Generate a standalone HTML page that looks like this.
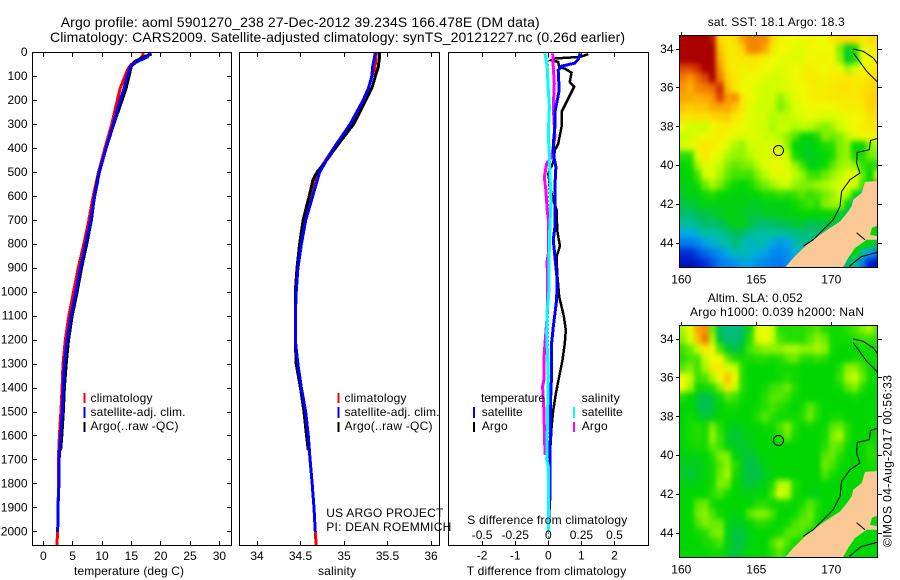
<!DOCTYPE html>
<html>
<head>
<meta charset="utf-8">
<title>Argo profile 5901270_238</title>
<style>
html,body{margin:0;padding:0;background:#fff;}
svg{display:block;}
text{font-family:"Liberation Sans",sans-serif;font-size:12px;fill:#000;}
.ttl{font-size:14px;}
</style>
</head>
<body>
<svg id="fig" xmlns="http://www.w3.org/2000/svg" width="900" height="580" viewBox="0 0 900 580">
<defs>
<clipPath id="clip-p1"><rect x="33" y="53" width="198" height="492"/></clipPath>
<clipPath id="clip-p2"><rect x="240" y="53" width="199" height="492"/></clipPath>
<clipPath id="clip-p3"><rect x="449" y="53" width="199" height="492"/></clipPath>
<clipPath id="clip-m1"><rect x="679" y="35" width="199" height="233"/></clipPath>
<clipPath id="clip-m2"><rect x="679" y="325" width="199" height="233"/></clipPath>
<filter id="map-smooth" filterUnits="userSpaceOnUse" x="640" y="0" width="260" height="580" color-interpolation-filters="sRGB"><feGaussianBlur stdDeviation="2.4 3"/></filter>
</defs>

<text class="ttl" x="60.7" y="27" textLength="479" lengthAdjust="spacing">Argo profile: aoml 5901270_238 27-Dec-2012 39.234S 166.478E (DM data)</text>
<text class="ttl" x="50" y="42" textLength="575" lengthAdjust="spacing">Climatology: CARS2009. Satellite-adjusted climatology: synTS_20121227.nc (0.26d earlier)</text>

<g id="p1"></g>
<g id="p2"></g>
<g id="p3"></g>
<g id="m1"></g>
<g id="m2"></g>

<text x="74" y="575" textLength="110" lengthAdjust="spacing">temperature (deg C)</text>
<text x="318" y="575" textLength="38" lengthAdjust="spacing">salinity</text>
<text x="466.7" y="575" textLength="159.5" lengthAdjust="spacing">T difference from climatology</text>
<text x="467.3" y="524" textLength="160" lengthAdjust="spacing">S difference from climatology</text>

<g>
<rect x="83.5" y="393" width="2" height="10" fill="#f00"/>
<rect x="83.5" y="407" width="2" height="11" fill="#00f"/>
<rect x="83.5" y="422" width="2" height="10" fill="#000"/>
<text x="90.5" y="402" textLength="62" lengthAdjust="spacing">climatology</text>
<text x="90.5" y="416" textLength="95" lengthAdjust="spacing">satellite-adj. clim.</text>
<text x="90.5" y="430" textLength="88" lengthAdjust="spacing">Argo(..raw -QC)</text>
</g>
<g>
<rect x="337.5" y="393" width="2" height="10" fill="#f00"/>
<rect x="337.5" y="407" width="2" height="11" fill="#00f"/>
<rect x="337.5" y="422" width="2" height="10" fill="#000"/>
<text x="344.5" y="402" textLength="62" lengthAdjust="spacing">climatology</text>
<text x="344.5" y="416" textLength="95" lengthAdjust="spacing">satellite-adj. clim.</text>
<text x="344.5" y="430" textLength="88" lengthAdjust="spacing">Argo(..raw -QC)</text>
</g>
<g>
<text x="481" y="402" textLength="64" lengthAdjust="spacing">temperature</text>
<text x="581.7" y="402" textLength="38" lengthAdjust="spacing">salinity</text>
<rect x="473" y="407" width="2" height="11" fill="#00f"/>
<rect x="473" y="422" width="2" height="10" fill="#000"/>
<rect x="573" y="407" width="2" height="11" fill="#0ff"/>
<rect x="573" y="422" width="2" height="10" fill="#f0f"/>
<text x="481.7" y="416" textLength="41" lengthAdjust="spacing">satellite</text>
<text x="481.7" y="430" textLength="26" lengthAdjust="spacing">Argo</text>
<text x="581.7" y="416" textLength="41" lengthAdjust="spacing">satellite</text>
<text x="581.7" y="430" textLength="26" lengthAdjust="spacing">Argo</text>
</g>

<text x="326.3" y="517" textLength="117" lengthAdjust="spacing">US ARGO PROJECT</text>
<text x="326.3" y="531" textLength="125" lengthAdjust="spacing">PI: DEAN ROEMMICH</text>

<text x="707.7" y="26" textLength="137" lengthAdjust="spacing">sat. SST: 18.1 Argo: 18.3</text>
<text x="707.7" y="302" textLength="95" lengthAdjust="spacing">Altim. SLA: 0.052</text>
<text x="690" y="316" textLength="174" lengthAdjust="spacing">Argo h1000: 0.039 h2000: NaN</text>
<text transform="translate(891.5,547) rotate(-90)" x="0" y="0" textLength="172" lengthAdjust="spacing">©IMOS 04-Aug-2017 00:56:33</text>
</svg>

<script>
// ---------- profile data (depth in m) ----------
var depthTicks = [0,100,200,300,400,500,600,700,800,900,1000,1100,1200,1300,1400,1500,1600,1700,1800,1900,2000];
var tempTicks = [0,5,10,15,20,25,30];
var salTicks = [34,34.5,35,35.5,36];
var salTickLabels = ['34','34.5','35','35.5','36'];
var tDiffTicks = [-2,-1,0,1,2];
var sDiffTicks = [-0.5,-0.25,0,0.25,0.5];
var sDiffTickLabels = ['-0.5','-0.25','0','0.25','0.5'];

var climDepth = [0,10,30,50,70,100,150,200,300,400,500,600,700,800,900,1000,1100,1200,1300,1400,1500,1600,1700,1800,1900,2000,2056];
var climTemp = [17,17,16.5,15,14.4,13.9,13.1,12.6,11.65,10.5,9.4,8.5,7.75,6.9,5.95,5.15,4.35,3.75,3.35,3.2,3,2.75,2.55,2.6,2.5,2.45,2.3];
var climSal = [35.375,35.37,35.365,35.36,35.35,35.32,35.28,35.22,35.07,34.88,34.70,34.63,34.55,34.51,34.47,34.45,34.44,34.44,34.46,34.51,34.56,34.59,34.61,34.635,34.655,34.67,34.68];

var satDepth = [0,20,40,60,100,150,200,300,400,500,600,700,800,900,1000,1100,1200,1300,1400,1500,1600,1700,1800,1900,2000];
var satTemp = [18.2,17.7,15.9,14.8,14.3,13.75,13.1,11.9,10.7,9.55,8.75,8.05,7.2,6.3,5.55,4.7,4.05,3.6,3.4,3.25,2.95,2.7,2.65,2.5,2.45];
var satSal = [35.36,35.35,35.34,35.33,35.32,35.28,35.22,35.07,34.88,34.72,34.64,34.56,34.51,34.47,34.45,34.44,34.44,34.47,34.51,34.56,34.59,34.61,34.635,34.655,34.67];

var argoDepth = [0,10,20,40,60,100,150,200,300,400,460,500,530,600,700,800,900,1000,1100,1200,1300,1400,1500,1600,1660];
var argoTemp = [18,18.2,17,15.5,15,14.6,14.1,13.4,12,10.7,10,9.5,9.25,8.7,8.2,7.4,6.5,5.75,4.9,4.3,3.9,3.6,3.4,3.15,2.95];
var argoSal = [35.41,35.41,35.41,35.40,35.395,35.36,35.32,35.25,35.11,34.9,34.78,34.69,34.645,34.6,34.53,34.49,34.46,34.44,34.44,34.44,34.45,34.5,34.54,34.57,34.59];

var argoTDiffDepth = [8,19,26,33,40,61,68,85,124,144,193,249,311,381,408,457,506,561,617,658,742,808,853,922,1019,1102,1158,1214,1283,1352,1422,1491,1561,1630,1679];
var argoTDiff = [1.21,0.96,0.2,0.1,0.3,0.33,0.5,0.7,0.65,0.78,0.6,0.4,0.4,0.3,0.2,0.15,0,0.05,0.15,0.25,0.27,0.35,0.25,0.27,0.33,0.47,0.53,0.5,0.43,0.33,0.23,0.15,0.1,0.07,0.05];

var satTDiffDepth = [5,31,45,58,75,158,214,249,311,381,436,478,561,631,728,783,853,950,1033,1144,1214,1339,1450,1755,1852,1977,2000];
var satTDiff = [0.96,0.9,0.8,0.4,0.3,0.33,0.25,0.2,0.2,0.15,0.17,0.23,0.2,0.2,0.2,0.15,0.2,0.27,0.25,0.15,0.1,0.1,0.07,0.05,0.05,0,0];

var satSDiffDepth = [5,61,158,228,339,436,617,783,1019,1075,1172,1352,1700,1727,2000];
var satSDiff = [-0.025,-0.008,0,0.008,0,0.008,0.02,0.008,0.003,-0.008,-0.012,0,-0.012,0,0];

var argoSDiffDepth = [5,61,131,228,353,436,464,520,575,658,714,840,870,1075,1214,1283,1367,1394,1491,1679];
var argoSDiff = [0.033,0.038,0.045,0.038,0.05,0.025,-0.012,-0.03,-0.018,-0.008,0.003,0,-0.008,-0.005,-0.025,-0.033,-0.033,-0.043,-0.033,-0.025];

// ---------- map data ----------
var lonTicks = [160,165,170];
var latTicks = [34,36,38,40,42,44];

// Sea-surface temperature (deg C), 0.5 deg cells, north to south
var sstGrid = [
[22,22,22,22,21.5,18.7,18.5,18.7,19.4,19.7,19.7,19.6,18.8,18.3,18.2,18.2,18.3,18.3,18.2,18.2,18.5,18.7,18.7,18.7,18.5,18.7,18.7],
[22,22,22,22,22,19,18.5,18.5,18.8,19.7,19.7,19.3,18.5,18.2,18.2,18,18,18.2,18.2,18.2,18.2,17,15.8,16.2,18,18.3,18.5],
[22,22,22,22,22,19.2,18.5,18.5,18.5,18.5,18.5,18.3,18.2,18.1,18,18,18,18.2,18.3,18.3,18.2,17.2,15.8,16.2,18,18.2,18.3],
[20.5,20.5,21,22,22,19.5,18.6,18.4,18.3,18.4,18.3,18.2,18.1,18,18.1,18.2,18.3,18.4,18.3,18.2,18.3,18.2,17.3,17.8,18.2,18.4,18.5],
[19.8,19.5,20,20.5,22,19.8,18.8,18.5,18.3,18.2,18.1,18,17.8,17.9,18,18.2,18.3,18.4,18.4,18.3,18.4,18.5,18.5,18.5,18.4,18.6,18.7],
[19.5,19.2,19.7,19.8,20,21,19,18.5,18.2,18.1,18,17.7,17.8,17.9,18,18.1,18.2,18.3,18.4,18.4,18.5,18.6,18.6,18.5,18.6,18.7,18.8],
[19.3,19.3,19.2,19.3,19.5,20.6,19.5,19.6,18.5,18.2,17.9,17.8,17.8,17.2,17.6,18,18.2,18.3,18.4,18.4,18.5,18.5,18.5,18.5,18.6,18.8,18.8],
[19,18.9,19,19,19.3,19.3,19.3,19,18.5,18,17.8,17.8,17.7,17,17.4,17.9,18.1,18.2,18.2,18.2,18.2,18.3,18.4,18.4,18.5,18.8,18.7],
[18.6,18.5,18.6,18.6,18.7,18.8,18.9,18.5,18.3,18,17.9,17.8,17.5,17.6,17.6,17.8,18,18.1,18,17.9,17.9,18,18.1,18.2,18.3,18.6,18.6],
[18.1,17.8,17.8,17.7,18.2,18.4,18.4,18.3,18.2,18,17.9,17.7,17.4,17.7,17.7,17.4,17.6,17.5,17.2,17,17.3,17.8,18,18.2,18.4,18.5,18.5],
[17.7,17.8,18,18.2,18.3,18.4,18.2,18,17.9,18,18,17.7,17.7,17.5,17.1,16.6,16,15.9,16.2,17,16.8,17,17.6,18,18.2,18.2,18.3],
[17.8,18,18.4,18.5,18.4,18.2,17.9,17.4,17.2,17.7,17.8,17.9,17.9,17.9,17.2,16,15.9,15.9,16,16.2,16.3,17,17.2,16,16,17,17.5],
[16.3,16.3,18,18.5,18.2,18,17.4,17.2,17.2,17.5,17.8,17.9,18,18,17.8,16.2,15.9,15.8,15.9,16,16.2,17,17.2,16.2,16.2,16.8,17],
[16,16.1,17.3,18,17.9,17.6,17,16.7,16.9,17,17.5,18,18.1,18.1,18,17.3,16.5,15.9,15.9,16.1,16.7,17.2,17.4,17.2,16.4,16.2,16.2],
[15.9,16,16.5,17.8,18,17.4,16.8,16.5,16.5,16.5,17,17.5,18,18,18,17.6,17.2,16.5,16.4,16.8,17.2,17.6,18,18.2,16.8,16,18],
[15.9,15.9,16.1,16.8,17.4,16.9,16.4,16.1,16,16.1,16.6,16.9,17.3,17.6,17.8,17.2,17,17,17.2,17.4,17.6,17.8,18,17.8,16.5,16,20],
[15.8,15.9,15.9,16.1,16.3,16,16,15.9,15.9,16,16,16.2,16.2,16.4,16.3,16.4,16.7,16.4,16.6,16.9,17.2,17.7,17.5,16,15,15,15],
[15.6,15.7,15.8,15.9,15.9,15.9,15.9,15.9,15.9,15.8,15.8,15.9,15.9,15.9,15.9,16.1,16.3,16.5,16.3,17,17.3,17.3,16,15,15,15,15],
[15.4,15.3,15.5,15.6,15.7,15.8,15.9,15.9,15.8,15.7,15.7,15.8,15.8,15.9,15.9,15.9,16,16,16,16,16,15.8,15.5,15,15,15,15],
[15,15,15.2,15.4,15.3,15.5,15.7,15.9,15.9,15.6,15.4,15.3,15.4,15.5,15.6,15.7,15.7,15.5,15.6,15.6,15.7,15.5,15,15,15,16,16],
[14.6,14.6,14.7,15,15,15,15.2,15.5,15.4,15.1,15,15,15,15,15,15.2,15.3,15.3,15.3,15.3,15.3,15,15,15,15,16,16],
[14,14,14.2,14.5,14.7,14.9,15,15.3,15,14.8,14.9,14.9,14.6,14.4,14.5,14.9,15,15.1,15,15,15,15,15.5,16,16,16,15.5],
[13.2,13.2,13.5,13.8,14.1,14.3,14.6,14.9,14.9,14.8,14.7,14.5,14.2,14.2,14.3,14.7,15,15,15,15,15,15,15.5,16,15,14.5,14],
[12.7,12.7,13,13.2,13.6,14,14.2,14.3,14.5,14.5,14.3,14.2,14.1,14,14.2,14.5,15,15,15,15,15,15,15.5,15,14,13,12.7]
];

// Altimeter sea-level anomaly (m), 0.5 deg cells, north to south
var slaGrid = [
[0.25,0.35,0.6,0.65,0.15,-0.15,-0.22,-0.22,-0.18,0.02,0.35,0.4,0.3,0.05,0.05,0.05,0.05,0.08,0.12,0.05,0.02,0.02,0.05,0.1,0.18,0.25,0.1],
[0.2,0.35,0.55,0.7,0.25,-0.1,-0.2,-0.2,-0.12,0.05,0.35,0.4,0.3,0.1,0.05,0.05,0.05,0.12,0.2,0.15,0.02,0.02,0.02,0.05,0.08,0.08,0.05],
[0.08,0.15,0.3,0.45,0.4,0.1,-0.05,-0.12,-0.05,0.1,0.15,0.2,0.2,0.2,0.25,0.25,0.2,0.2,0.25,0.2,0.02,0,0,0,0.02,0.02,0.02],
[0.05,0.1,0.1,0.3,0.4,0.4,0.15,0.05,0.03,0.03,0.05,0.05,0.03,0.05,0.12,0.15,0.05,0.05,0.08,0.05,0,0,0,0.03,0.03,0.02,0.02],
[0.12,0.18,0.08,0.25,0.45,0.45,0.35,0.3,0.05,0,0,0,0,0.02,0.02,0.02,0,0,0,0,0,0.05,0.2,0.2,0.1,0.02,0],
[0.4,0.3,0.08,0.1,0.25,0.4,0.55,0.4,0.05,0,0,0,0,0.02,0.05,0.02,0,0,0,0,0,0.08,0.25,0.3,0.15,0.02,0],
[0.4,0.25,0.02,0.02,0.05,0.2,0.45,0.3,0.05,0,0,0.02,0.08,0.1,0.15,0.05,0,0,0,0,0,0.02,0.12,0.18,0.05,0,0],
[0.05,0,-0.08,-0.12,-0.08,0.02,0.12,0.08,0.02,0,0,0.05,0.12,0.12,0.08,0.02,0,0,0,0,0,0,0,0.02,0,0,0],
[0,0,-0.08,-0.15,-0.1,-0.02,0.02,0.02,0,0,0.02,0.05,0.1,0.05,0.02,0,0.03,0.12,0.05,0,0,0,0,0,0,0,0],
[0,0.02,-0.02,-0.08,-0.05,0,0,0,0,0,0.05,0.12,0.05,0.02,0.02,0.02,0.05,0.15,0.05,0,0.02,0.03,0,0,0,0,0],
[0,0.03,0.05,0.03,0.18,0.05,-0.02,-0.05,-0.03,0,0,0.02,0.02,0.1,0.2,0.05,0,0.02,0,0.02,0.12,0.15,0.05,0,0,0,0],
[0,0.03,0.05,0.03,0.22,0.08,-0.05,-0.1,-0.05,-0.02,0,0,0,0.05,0.15,0.03,0,0,0,0.03,0.18,0.25,0.05,0,0,0,0],
[0,0.02,0.03,0.03,0.15,0.08,-0.02,-0.05,-0.08,-0.05,-0.02,0,0,0,0,0,0,0,0,0.05,0.15,0.12,0.02,0,0,0.05,0],
[-0.02,-0.03,-0.02,0,0.05,0.18,0.18,-0.02,-0.05,-0.1,-0.05,-0.02,0,0,0,0,0,0,0,0.12,0.15,0.05,0,0,0,0.05,0.05],
[-0.05,-0.05,-0.05,-0.02,0.03,0.12,0.22,0.05,-0.05,-0.12,-0.1,-0.03,0,0,0,0,0,0,0,0.15,0.1,0.02,0,0,0,0.03,0.02],
[-0.05,-0.1,-0.05,-0.02,0.02,0.15,0.25,0.03,-0.05,-0.12,-0.12,-0.05,-0.02,0,0,0,0,0,0,0.1,0.03,0,0,0,0,0,0],
[-0.02,-0.03,-0.02,0,0.03,0.18,0.15,0,-0.05,-0.1,-0.05,-0.03,0.05,0.28,0.28,0.05,0,0,0,0,0,0,0,0,0,0,0],
[0,0,0,0,0.05,0.1,0.02,0,-0.02,-0.03,-0.02,0,0.1,0.35,0.28,0.03,0,-0.02,-0.03,0,0,0,0,0,0,0,0],
[0,0,0.12,0.15,0.03,0,0,0,0,0,0.05,0.05,0.02,0.02,0.02,0,0.03,0.12,0.05,0,0,0,0,0,0,0,0],
[0,0,0.15,0.2,0.1,0.02,0,-0.03,0,0.12,0.18,0.18,0.1,0,0,0.02,0.1,0.15,0.03,0,0,0,0,0,0,0,0],
[0,0,0.1,0.18,0.15,0.15,-0.02,-0.05,-0.05,0,0.05,0.05,0.02,0,0.02,0.1,0.15,0.12,0.02,0,0,0,0,0,0,0,0],
[0,0,0.02,0.05,0.15,0.18,-0.03,-0.1,-0.1,-0.03,0,0,0,0.03,0.12,0.12,0.1,0.02,0,0,0,0,0,0,0,0,0],
[0,0,0,0.03,0.05,0.1,-0.03,-0.1,-0.1,-0.03,0,0,0.1,0.2,0.1,0.02,0,0,0,0,0,0,0,0,0,0,0],
[0,0,0,0,0.02,0.02,-0.05,-0.1,-0.05,0,0,0,0.05,0.12,0.03,0,0,0,0,0,0,0,0,0,0,0,0]
];

var profileLon = 166.478;
var profileLat = 39.234;

var landLon = [166.87,167.47,168.36,169.25,169.91,170.58,171.13,171.36,171.47,172.03,172.25,173.2,173.2,172.71,172.58,173.2,173.2,172.36,171.58,171.13,170.75];
var landLat = [45.3,44.77,44.09,43.57,43.23,42.89,42.37,42.11,41.77,41.42,40.85,40.8,43.06,43.21,43.57,43.67,43.83,43.83,44.26,44.77,45.3];

var shelfLon = [173.2,172.62,172.53,171.73,171.69,171.91,171.24,170.69,170.58,170.13,169.47,168.8,168.13];
var shelfLat = [38.59,38.71,39.19,39.33,39.88,40.39,40.74,41.34,42.11,42.8,43.31,43.83,44.17];
var northCoastLon = [171.47,172.13,172.8,173.2];
var northCoastLat = [34,34.12,34.46,34.9];
var northShelfLon = [171.47,172.36,173.2];
var northShelfLat = [34.2,35.15,35.8];
var innerCoastLon = [171.69,172.25];
var innerCoastLat = [43.47,43.83];
var southCoastLon = [171.2,172,173.2];
var southCoastLat = [45.2,44.7,44.45];

// Colour ramp used by both maps
var rampValues = [12,13,14,14.6,15,15.5,16,17,17.7,18.2,18.7,19.5,20.5,22];
var rampReds = [0,0,0,0,0,0,0,130,200,240,255,250,225,170];
var rampGreens = [0,30,120,170,190,190,215,240,255,250,220,150,70,0];
var rampBlues = [140,210,240,230,160,90,0,0,0,0,0,0,0,0];

// ---------- helpers ----------
var NS = 'http://www.w3.org/2000/svg';
function mk(parent, tag, attrs, txt) {
  var el = document.createElementNS(NS, tag);
  for (var k in attrs) { el.setAttribute(k, attrs[k]); }
  if (txt !== undefined) { el.textContent = txt; }
  parent.appendChild(el);
  return el;
}
function yDepth(d) { return 52.3 + d * 0.2398; }
function xTemp(t) { return 43.3 + t * 5.87; }
function xSal(s) { return 257 + (s - 34) * 87; }
function xTDiff(t) { return 548.3 + t * 33.1; }
function xSDiff(s) { return 548.3 + s * 132.4; }
function rampColour(v) {
  var n = rampValues.length;
  if (v <= rampValues[0]) { return 'rgb(' + rampReds[0] + ',' + rampGreens[0] + ',' + rampBlues[0] + ')'; }
  for (var i = 1; i < n; i++) {
    if (v <= rampValues[i]) {
      var f = (v - rampValues[i-1]) / (rampValues[i] - rampValues[i-1]);
      var r = Math.round(rampReds[i-1] + f * (rampReds[i] - rampReds[i-1]));
      var g = Math.round(rampGreens[i-1] + f * (rampGreens[i] - rampGreens[i-1]));
      var b = Math.round(rampBlues[i-1] + f * (rampBlues[i] - rampBlues[i-1]));
      return 'rgb(' + r + ',' + g + ',' + b + ')';
    }
  }
  return 'rgb(' + rampReds[n-1] + ',' + rampGreens[n-1] + ',' + rampBlues[n-1] + ')';
}
function slaToRamp(v) { return v < 0 ? 16 + v * 3.5 : 16 + v * 5.5; }
function sstToRamp(v) { return v; }

function pointsOf(xs, ys, fx, fy) {
  var out = [];
  for (var i = 0; i < xs.length; i++) { out.push(fx(xs[i]).toFixed(1) + ',' + fy(ys[i]).toFixed(1)); }
  return out.join(' ');
}

function drawLine(parent, clipId, values, depths, fx, colour, width, name) {
  var el = mk(parent, 'polyline', {
    points: pointsOf(values, depths, fx, yDepth),
    fill: 'none', stroke: colour, 'stroke-width': width, 'shape-rendering': 'crispEdges',
    'clip-path': 'url(#' + clipId + ')'
  });
  
  
  return el;
}

function drawFrame(parent, x, y, w, h) {
  var el = mk(parent, 'rect', { x: x, y: y, width: w, height: h, fill: 'none', stroke: '#000', 'stroke-width': 1, 'shape-rendering': 'crispEdges' });
  
  
}

function tickLine(parent, x1, y1, x2, y2) {
  var el = mk(parent, 'line', { x1: x1, y1: y1, x2: x2, y2: y2, stroke: '#000', 'stroke-width': 1, 'shape-rendering': 'crispEdges' });
  
  
}

function tickText(parent, x, y, anchor, label) {
  var el = mk(parent, 'text', { x: x, y: y, 'text-anchor': anchor }, label);
  
  
}

function snap(v) { return Math.round(v - 0.5) + 0.5; }

function xAxisTicks(parent, ticks, labels, fx, labelY) {
  for (var i = 0; i < ticks.length; i++) {
    var x = snap(fx(ticks[i]));
    tickLine(parent, x, 52, x, 57);
    tickLine(parent, x, 541, x, 546);
    tickText(parent, fx(ticks[i]), labelY, 'middle', labels[i]);
  }
}

// ---------- temperature panel ----------
var p1 = document.getElementById('p1');
drawLine(p1, 'clip-p1', climTemp, climDepth, xTemp, '#f00', 3, 'climatology-temperature-line');
drawLine(p1, 'clip-p1', argoTemp, argoDepth, xTemp, '#000', 3, 'argo-temperature-line');
drawLine(p1, 'clip-p1', satTemp, satDepth, xTemp, '#00f', 3, 'satellite-temperature-line');
drawFrame(p1, 32.5, 52.5, 199, 493);
for (var i = 0; i < depthTicks.length; i++) {
  var ty = snap(yDepth(depthTicks[i]));
  tickLine(p1, 32, ty, 37, ty);
  tickLine(p1, 227, ty, 232, ty);
  tickText(p1, 27.5, yDepth(depthTicks[i]) + 3.6, 'end', String(depthTicks[i]));
}
xAxisTicks(p1, tempTicks, tempTicks.map(String), xTemp, 560);

// ---------- salinity panel ----------
var p2 = document.getElementById('p2');
drawLine(p2, 'clip-p2', climSal, climDepth, xSal, '#f00', 3, 'climatology-salinity-line');
drawLine(p2, 'clip-p2', argoSal, argoDepth, xSal, '#000', 3, 'argo-salinity-line');
drawLine(p2, 'clip-p2', satSal, satDepth, xSal, '#00f', 3, 'satellite-salinity-line');
drawFrame(p2, 239.5, 52.5, 200, 493);
xAxisTicks(p2, salTicks, salTickLabels, xSal, 560);

// ---------- difference panel ----------
var p3 = document.getElementById('p3');
var zeroLine = mk(p3, 'line', { x1: xTDiff(0), y1: yDepth(0), x2: xTDiff(0), y2: yDepth(2056), stroke: '#000', 'stroke-width': 1, 'stroke-dasharray': '1 3', 'shape-rendering': 'crispEdges' });


drawLine(p3, 'clip-p3', argoTDiff, argoTDiffDepth, xTDiff, '#000', 2.5, 'argo-temperature-difference-line');
drawLine(p3, 'clip-p3', argoSDiff, argoSDiffDepth, xSDiff, '#f0f', 3, 'argo-salinity-difference-line');
drawLine(p3, 'clip-p3', satTDiff, satTDiffDepth, xTDiff, '#00f', 3, 'satellite-temperature-difference-line');
drawLine(p3, 'clip-p3', satSDiff, satSDiffDepth, xSDiff, '#0ff', 3, 'satellite-salinity-difference-line');
drawFrame(p3, 448.5, 52.5, 200, 493);
for (var j = 0; j < tDiffTicks.length; j++) {
  var tx = snap(xTDiff(tDiffTicks[j]));
  tickLine(p3, tx, 52, tx, 57);
  tickText(p3, xTDiff(tDiffTicks[j]), 559.5, 'middle', String(tDiffTicks[j]));
}
for (var k = 0; k < sDiffTicks.length; k++) {
  tickLine(p3, snap(xSDiff(sDiffTicks[k])), 541, snap(xSDiff(sDiffTicks[k])), 546);
  tickText(p3, xSDiff(sDiffTicks[k]), 539, 'middle', sDiffTickLabels[k]);
}

// ---------- maps ----------
function drawMap(id, top, grid, toRamp, clipId) {
  var g = document.getElementById(id);
  var lat34Y = top + 14;
  function xLon(lon) { return 681.3 + (lon - 160) * 15; }
  function yLat(lat) { return lat34Y + (lat - 34) * 19.4; }
  var clipGroup = mk(g, 'g', { 'clip-path': 'url(#' + clipId + ')' });
  
  
  var cells = mk(clipGroup, 'g', { filter: 'url(#map-smooth)', 'shape-rendering': 'crispEdges' });
  
  
  for (var r = 0; r < grid.length; r++) {
    for (var c = 0; c < grid[r].length; c++) {
      var lon0 = 159.87 + c * 0.5;
      var lat0 = 33.28 + r * 0.5;
      var x0 = Math.floor(xLon(lon0));
      var y0 = Math.floor(yLat(lat0));
      var x1 = Math.ceil(xLon(lon0 + 0.5));
      var y1 = Math.ceil(yLat(lat0 + 0.5));
      if (c === 0) { x0 -= 14; }
      if (c === grid[r].length - 1) { x1 += 14; }
      if (r === 0) { y0 -= 14; }
      if (r === grid.length - 1) { y1 += 14; }
      var cell = mk(cells, 'rect', { x: x0, y: y0, width: x1 - x0, height: y1 - y0, fill: rampColour(toRamp(grid[r][c])) });
      
      
    }
  }
  var land = mk(clipGroup, 'polygon', { points: pointsOf(landLon, landLat, xLon, yLat), fill: '#fbc995', stroke: 'none' });
  
  
  var coastLons = [shelfLon, northCoastLon, northShelfLon, innerCoastLon, southCoastLon];
  var coastLats = [shelfLat, northCoastLat, northShelfLat, innerCoastLat, southCoastLat];
  for (var q = 0; q < coastLons.length; q++) {
    var coast = mk(clipGroup, 'polyline', { points: pointsOf(coastLons[q], coastLats[q], xLon, yLat), fill: 'none', stroke: '#000', 'stroke-width': 1 });
    
    
  }
  var marker = mk(g, 'circle', { cx: xLon(profileLon), cy: yLat(profileLat), r: 5, fill: 'none', stroke: '#000', 'stroke-width': 1 });
  
  
  drawFrame(g, 679.5, top + 0.5, 198, 232);
  for (var a = 0; a < lonTicks.length; a++) {
    var lx = snap(xLon(lonTicks[a]));
    tickLine(g, lx, top - 3, lx, top);
    tickText(g, xLon(lonTicks[a]), top + 248.5, 'middle', String(lonTicks[a]));
  }
  for (var b = 0; b < latTicks.length; b++) {
    var ly = snap(yLat(latTicks[b]));
    tickLine(g, 676, ly, 679, ly);
    tickLine(g, 878, ly, 882, ly);
    tickText(g, 673.5, yLat(latTicks[b]) + 3.8, 'end', String(latTicks[b]));
  }
}
drawMap('m1', 35, sstGrid, sstToRamp, 'clip-m1');
drawMap('m2', 325, slaGrid, slaToRamp, 'clip-m2');
</script>
</body>
</html>
